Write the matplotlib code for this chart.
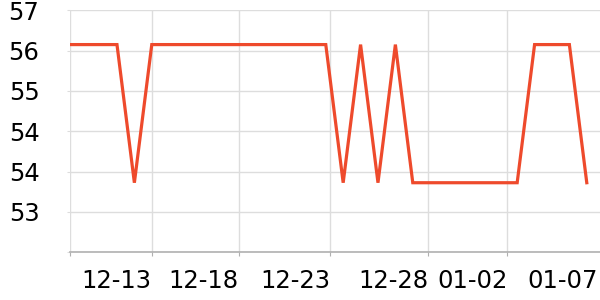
import matplotlib
matplotlib.use('Agg')
import matplotlib.pyplot as plt

# daily values, day 0 = 12-08
days = list(range(31))
hi, lo = 56.12, 53.38
values = [hi, hi, hi, hi, lo,
          hi, hi, hi, hi, hi, hi, hi, hi, hi, hi, hi,
          lo, hi, lo, hi,
          lo, lo, lo, lo, lo, lo, lo,
          hi, hi, hi, lo]

x_ticks = [0.3, 5.0, 10.0, 15.26, 20.9, 25.44, 30.62]
x_labels = ['', '12-13', '12-18', '12-23', '12-28', '01-02', '01-07']
y_ticks = [52.0, 52.8, 53.6, 54.4, 55.2, 56.0, 56.8]
y_labels = [''] + ['%.0f' % v for v in y_ticks[1:]]

fig = plt.figure(figsize=(6, 3), dpi=100)
ax = fig.add_axes([70 / 600, 47.7 / 300, 530 / 600, 242 / 300])

ax.plot(days, values, color='#ee4a2c', linewidth=2.3, solid_joinstyle='miter', zorder=3)

ax.set_xlim(0.3, 30.76)
ax.set_ylim(52.0, 56.8)
ax.set_xticks(x_ticks)
ax.set_xticklabels(x_labels, ha='right')
ax.set_yticks(y_ticks)
ax.set_yticklabels(y_labels)

ax.grid(True, color='#dddddd', linewidth=1)
ax.set_axisbelow(True)
# the last label has no grid line or tick mark under it
ax.get_xgridlines()[-1].set_visible(False)
ax.xaxis.get_major_ticks()[-1].tick1line.set_visible(False)
for side in ['top', 'right', 'left']:
    ax.spines[side].set_visible(False)
ax.spines['bottom'].set_color('#b0b0b0')
ax.spines['bottom'].set_linewidth(1.2)

ax.tick_params(axis='x', length=3, color='#b0b0b0', labelsize=17.5, pad=9)
ax.tick_params(axis='y', length=2, color='#dddddd', labelsize=17.5, pad=20)

fig.savefig('out.png', dpi=100)
